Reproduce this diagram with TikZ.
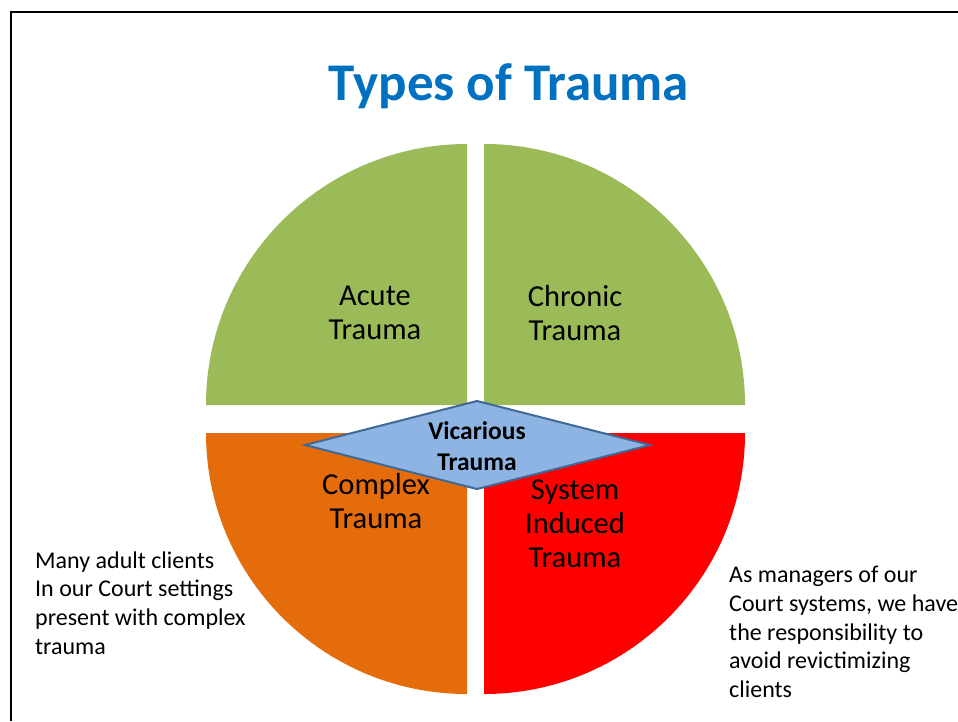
\documentclass[tikz,border=0pt]{standalone}
\usepackage{fontspec}
\setmainfont{Carlito}
\definecolor{titleblue}{RGB}{0,112,192}
\definecolor{qgreen}{RGB}{155,187,89}
\definecolor{qorange}{RGB}{228,108,10}
\definecolor{qred}{RGB}{255,0,0}
\definecolor{dfill}{RGB}{141,180,226}
\definecolor{dline}{RGB}{65,105,150}
\begin{document}
\begin{tikzpicture}[x=1pt,y=1pt,
  quadlabel/.style={align=center,inner sep=0pt,font=\fontsize{30.5}{34}\selectfont},
  sidetext/.style={align=left,anchor=west,inner sep=0pt,font=\fontsize{24}{28.7}\selectfont}]
\useasboundingbox (0,0) rectangle (958,-721);
\fill[white] (0,0) rectangle (958,-721);
% slide frame
\draw[line width=2.5pt] (11,-721) -- (11,-12) -- (958,-12);
% title
\node[inner sep=0pt,font=\fontsize{53}{60}\selectfont\bfseries,text=titleblue] (title) at (509,-86) {Types of Trauma};
% four quarter discs
\fill[qgreen] (467,-405) -- (206,-405) arc[start angle=180,end angle=90,radius=261] -- cycle;
\fill[qgreen] (484,-405) -- (745,-405) arc[start angle=0,end angle=90,radius=261] -- cycle;
\fill[qorange] (467,-433) -- (206,-433) arc[start angle=180,end angle=270,radius=261] -- cycle;
\fill[qred] (484,-433) -- (745,-433) arc[start angle=0,end angle=-90,radius=261] -- cycle;
% quadrant labels
\node[quadlabel] (acute) at (375,-313) {Acute\\Trauma};
\node[quadlabel] (chronic) at (575,-313) {Chronic\\Trauma};
\node[quadlabel] (complex) at (376,-501) {Complex\\Trauma};
\node[quadlabel] (system) at (575,-524) {System\\Induced\\Trauma};
% centre diamond
\coordinate (dl) at (305,-445);
\coordinate (dt) at (477,-401);
\coordinate (dr) at (650,-445);
\coordinate (db) at (477,-489);
\draw[fill=dfill,draw=dline,line width=2pt,line join=miter] (dl) -- (dt) -- (dr) -- (db) -- cycle;
\node[align=center,inner sep=0pt,font=\fontsize{25.5}{31}\selectfont\bfseries] (vicarious) at (477,-446) {Vicarious\\Trauma};
% side notes
\node[sidetext] (leftnote) at (35,-603) {Many adult clients\\In our Court settings\\present with complex\\trauma};
\node[sidetext] (rightnote) at (729,-632) {As managers of our\\Court systems, we have\\the responsibility to\\avoid revictimizing\\clients};
\end{tikzpicture}
\end{document}
